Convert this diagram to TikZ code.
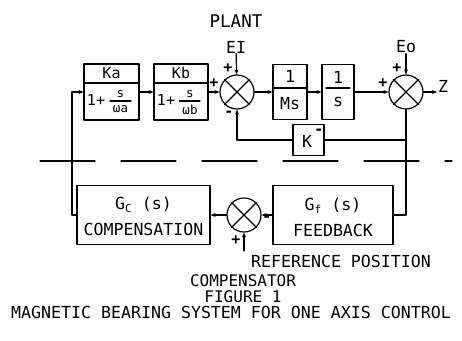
\documentclass[tikz,border=0pt]{standalone}
\usepackage{fontspec}
\setmonofont{DejaVu Sans Mono}
\usetikzlibrary{arrows.meta}
\newcommand{\lowsub}[1]{\raisebox{-3pt}{\fontsize{11}{11}\selectfont #1}}
\begin{document}
\begin{tikzpicture}[x=1pt,y=-1pt,line join=round,line cap=round,>={Stealth[length=5pt,width=4pt]},line width=1.2pt,font=\ttfamily\fontsize{16.6}{18}\selectfont]
\tikzset{every node/.append style={inner sep=0pt},
  blk/.style={draw},
  sum/.style={draw,circle,minimum size=34pt},
  sgn/.style={font=\ttfamily\bfseries\fontsize{15}{15}\selectfont},
  mid/.style={font=\ttfamily\fontsize{15}{15}\selectfont},
  tiny/.style={font=\ttfamily\fontsize{12.5}{12}\selectfont},
  capline/.style={text height=11pt,text depth=0pt}}
\useasboundingbox (0,0) rectangle (462,340);
\node (plant) at (236,21) {\fontsize{17.5}{18}\selectfont PLANT};
% forward path
\node[blk,minimum width=55pt,minimum height=56pt] (ka) at (111.5,92) {};
\draw (ka.west |- 0,83) -- (ka.east |- 0,83);
\node[mid] (kat) at (111.5,73) {Ka};
\node[mid] (ka1) at (96,100) {1+};
\draw (110,101) -- (131,101);
\node[tiny] (kas) at (120.5,94) {s};
\node[tiny] (kaw) at (120.5,109.5) {ωa};
\node[blk,minimum width=54pt,minimum height=56pt] (kb) at (181,92) {};
\draw (kb.west |- 0,83) -- (kb.east |- 0,83);
\node[mid] (kbt) at (181,73) {Kb};
\node[mid] (kb1) at (166,100) {1+};
\draw (179.5,101) -- (200,101);
\node[tiny] (kbs) at (190,94) {s};
\node[tiny] (kbw) at (190,109.5) {ωb};
\node[sum] (sa) at (237,92) {};
\draw (sa.north west) -- (sa.south east) (sa.north east) -- (sa.south west);
\node[blk,minimum width=34pt,minimum height=55pt] (ms) at (290,92) {};
\draw (ms.west |- 0,88) -- (ms.east |- 0,88);
\node (ms1) at (290,76) {1};
\node (ms2) at (290,104) {Ms};
\node[blk,minimum width=32pt,minimum height=55pt] (si) at (338,92) {};
\draw (326,88) -- (350,88);
\node (si1) at (338,77) {1};
\node (si2) at (338,102) {s};
\node[sum] (sb) at (406,92) {};
\draw (sb.north west) -- (sb.south east) (sb.north east) -- (sb.south west);
\node (ei) at (236,47) {EI};
\node (eo) at (406,47) {Eo};
\node (z) at (443,86) {Z};
\coordinate (zout) at (437,92);
\node[blk,minimum width=31pt,minimum height=31pt] (kbox) at (308.5,140) {};
\node (kt) at (307,141) {K};
\node[sgn] (kmin) at (319,132) {-};
\coordinate (kr) at (406,140);
\draw[->] (ka) -- (kb);
\draw[->] (kb) -- (sa);
\draw[->] (sa) -- (ms);
\draw[->] (ms) -- (si);
\draw[->] (si) -- (sb);
\draw[->] (sb) -- (zout);
\draw[->] (ei) -- (sa);
\draw[->] (eo) -- (sb);
\draw (kr) -- (kbox);
\draw[->] (kbox) -| (sa);
\node[sgn] (pa1) at (228,68) {+};
\node[sgn] (pa2) at (214,83) {+};
\node[sgn] (ma3) at (229,114) {-};
\node[sgn] (pb1) at (383,83) {+};
\node[sgn] (pb2) at (397,68) {+};
\draw[dash pattern=on 55pt off 26pt] (40,161) -- (452,161);
% compensator
\node[blk,minimum width=133pt,minimum height=59pt] (cp) at (143.5,215) {};
\node (cpt) at (143.5,205) {G\lowsub{C} (s)};
\node (cpn) at (143.5,229) {COMPENSATION};
\node[sum] (sc) at (244,215) {};
\draw (sc.north west) -- (sc.south east) (sc.north east) -- (sc.south west);
\node[blk,minimum width=120pt,minimum height=59pt] (fb) at (333,215) {};
\node (fbt) at (333,206) {G\lowsub{f} (s)};
\node (fbn) at (333,230) {FEEDBACK};
\coordinate (cl) at (72,150);
\coordinate (ref) at (244,251);
\draw (sb) |- (fb);
\draw[->] (fb) -- (sc);
\draw[->] (sc) -- (cp);
\draw[->] (cp.west) -| (cl) |- (ka.west);
\draw[->] (ref) -- (sc);
\node[sgn] (mc1) at (267,219) {-};
\node[sgn] (pc2) at (236,240) {+};
\node[capline] (refpos) at (341,262) {REFERENCE POSITION};
\node[capline,font=\ttfamily\fontsize{16}{16}\selectfont] (cmpr) at (243,281) {COMPENSATOR};
\node[capline,font=\ttfamily\fontsize{16}{16}\selectfont] (fig) at (243,296.5) {FIGURE 1};
\node[capline] (cap) at (231,312.5) {MAGNETIC BEARING SYSTEM FOR ONE AXIS CONTROL};
\end{tikzpicture}
\end{document}
